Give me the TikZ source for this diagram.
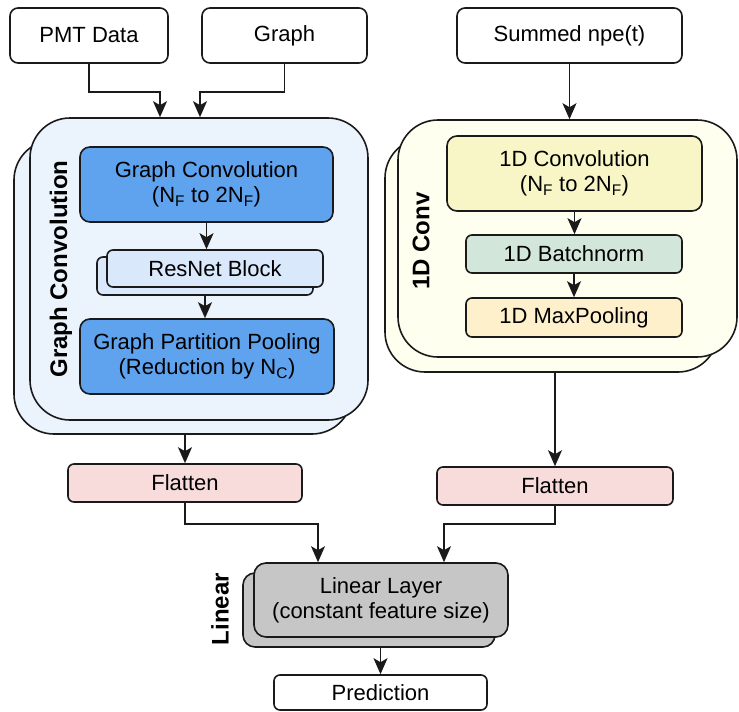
\documentclass[tikz,border=0pt]{standalone}
\usepackage{fontspec}
\setmainfont{Liberation Sans}
\usetikzlibrary{arrows.meta}
\definecolor{lineC}{HTML}{1A1A1A}
\definecolor{gcCont}{HTML}{EBF3FD}
\definecolor{gcBlue}{HTML}{5FA2EE}
\definecolor{resC}{HTML}{DAE8FC}
\definecolor{cvCont}{HTML}{FFFFF0}
\definecolor{cvYel}{HTML}{F8F6C6}
\definecolor{bnC}{HTML}{D3E6DA}
\definecolor{mpC}{HTML}{FFF0CC}
\definecolor{flatC}{HTML}{F8DCDC}
\definecolor{linC}{HTML}{C6C6C6}
\tikzset{
  box/.style={draw=lineC, line width=1.6pt, rounded corners=8pt, inner sep=0pt, align=center,
    font=\fontsize{22}{25}\selectfont},
  cont/.style={draw=lineC, line width=1.6pt, rounded corners=40pt, inner sep=0pt},
  vlabel/.style={rotate=90, font=\fontsize{24}{28}\selectfont\bfseries, inner sep=0pt},
  arr/.style={draw=lineC, line width=1.6pt, -{Stealth[length=16pt,width=14pt,inset=4pt]}},
}
\begin{document}
\begin{tikzpicture}[x=1pt,y=-1pt]
\useasboundingbox (0,0) rectangle (739,712);
% inputs
\node[box, minimum width=158, minimum height=55] (pmt) at (89,35.5) {PMT Data};
\node[box, minimum width=165, minimum height=55] (graph) at (284.5,35.5) {Graph};
\node[box, minimum width=225, minimum height=55] (npe) at (569.5,35.5) {Summed npe(t)};
% graph convolution container
\node[cont, fill=gcCont, minimum width=338, minimum height=294] (gcback) at (183,287) {};
\node[cont, fill=gcCont, minimum width=338, minimum height=302] (gcfront) at (199,269) {};
\node[vlabel] (gclabel) at (61,269) {Graph Convolution};
\node[box, fill=gcBlue, rounded corners=10pt, minimum width=253, minimum height=75] (gconv) at (206.5,184.5) {Graph Convolution\\(N\textsubscript{F} to 2N\textsubscript{F})};
\node[box, fill=resC, rounded corners=6pt, minimum width=216, minimum height=38] (resback) at (205,276) {};
\node[box, fill=resC, rounded corners=6pt, minimum width=216, minimum height=37] (resfront) at (215,268.5) {ResNet Block};
\node[box, fill=gcBlue, rounded corners=10pt, minimum width=254, minimum height=75] (gpp) at (207,356.5) {Graph Partition Pooling\\(Reduction by N\textsubscript{C})};
% 1D conv container
\node[cont, fill=cvCont, minimum width=333, minimum height=234] (cback) at (551.5,255) {};
\node[cont, fill=cvCont, minimum width=339, minimum height=237] (cfront) at (567.5,238.5) {};
\node[vlabel] (cvlabel) at (421,241) {1D Conv};
\node[box, fill=cvYel, rounded corners=10pt, minimum width=255, minimum height=75] (conv1d) at (574.5,173.5) {1D Convolution\\(N\textsubscript{F} to 2N\textsubscript{F})};
\node[box, fill=bnC, rounded corners=6pt, minimum width=216, minimum height=38] (bn) at (574,254) {1D Batchnorm};
\node[box, fill=mpC, rounded corners=6pt, minimum width=216, minimum height=39] (mp) at (574,317.5) {1D MaxPooling};
% flatten
\node[box, fill=flatC, rounded corners=6pt, minimum width=234, minimum height=38] (flat1) at (185,483) {Flatten};
\node[box, fill=flatC, rounded corners=6pt, minimum width=236, minimum height=38] (flat2) at (555,486) {Flatten};
% linear
\node[box, fill=linC, rounded corners=12pt, minimum width=252, minimum height=74] (linback) at (369,610) {};
\node[box, fill=linC, rounded corners=12pt, minimum width=254, minimum height=74] (linfront) at (381,600) {Linear Layer\\(constant feature size)};
\node[vlabel] (linlabel) at (220,609) {Linear};
\node[box, rounded corners=6pt, minimum width=213, minimum height=35] (pred) at (380.5,692.5) {Prediction};
% connectors
\coordinate (j1) at (160,92);
\coordinate (j2) at (200,92);
\draw[arr] (pmt.south) |- (j1) -- (j1 |- gcfront.north);
\draw[arr] (graph.south) |- (j2) -- (j2 |- gcfront.north);
\draw[arr] (npe.south) -- (npe.south |- cfront.north);
\draw[arr] (gconv.south) -- (gconv.south |- resfront.north);
\draw[arr] (resback.south) -- (resback.south |- gpp.north);
\draw[arr] (conv1d.south) -- (conv1d.south |- bn.north);
\draw[arr] (bn.south) -- (bn.south |- mp.north);
\draw[arr] (flat1.north |- gcback.south) -- (flat1.north);
\draw[arr] (flat2.north |- cback.south) -- (flat2.north);
\coordinate (j3) at (318,524);
\coordinate (j4) at (444,524);
\draw[arr] (flat1.south) |- (j3) -- (j3 |- linfront.north);
\draw[arr] (flat2.south) |- (j4) -- (j4 |- linfront.north);
\draw[arr] (pred.north |- linback.south) -- (pred.north);
\end{tikzpicture}
\end{document}
